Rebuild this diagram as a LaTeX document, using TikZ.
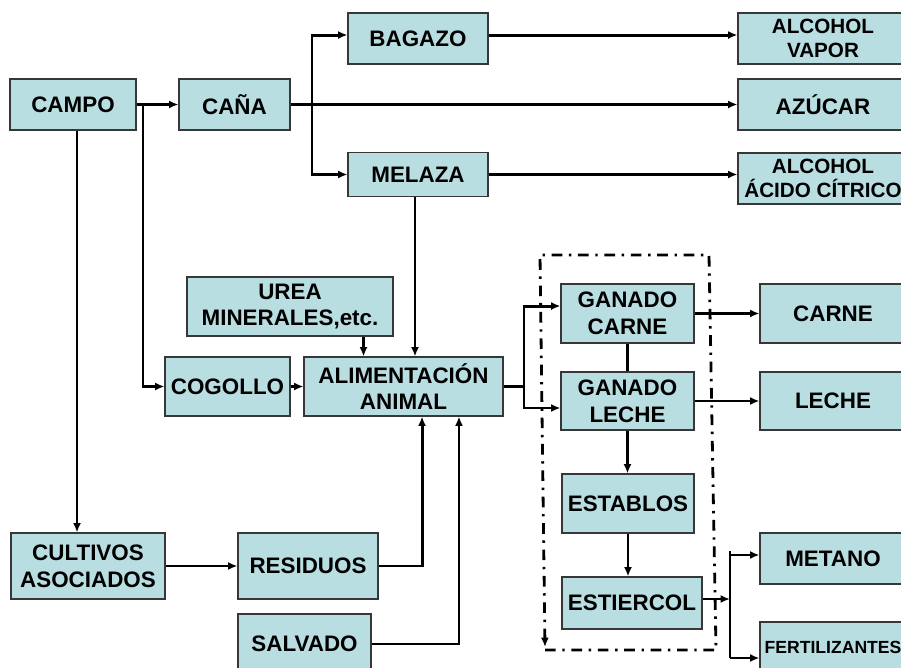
\documentclass[tikz,border=0pt]{standalone}
\usepackage{fontspec}
\setmainfont{Liberation Sans}
\usetikzlibrary{arrows.meta,calc}
\definecolor{boxfill}{RGB}{185,222,226}
\definecolor{boxline}{RGB}{55,55,55}
\begin{document}
\begin{tikzpicture}[x=0.75pt,y=-0.75pt,
  box/.style={draw=boxline,fill=boxfill,line width=0.8pt,inner sep=0pt,align=center,
    font=\bfseries\fontsize{16.8}{20}\selectfont},
  smalltxt/.style={font=\bfseries\fontsize{15.5}{18}\selectfont},
  tinytxt/.style={font=\bfseries\fontsize{13.2}{16}\selectfont},
  conn/.style={line width=2.2pt,-{Latex[length=7pt,width=6pt]}},
  plain/.style={line width=2.2pt},
  loopline/.style={line width=2.1pt,dash pattern=on 8pt off 5pt on 1.8pt off 5pt,-{Latex[length=7pt,width=6pt]}}]
\useasboundingbox (0,0) rectangle (901,668);
\clip (0,0) rectangle (901,668);

% dash-dot loop around livestock
\coordinate (l1) at (545,650);
\coordinate (l2) at (716,650);
\coordinate (l3) at (709,255);
\coordinate (l4) at (540,255);
\coordinate (l5) at (545,647);
\draw[loopline] (l1) -- (l2) -- (l3) -- (l4) -- (l5);

% nodes
\node[box,minimum width=94.5pt,minimum height=38.25pt] (campo) at (73,104.5) {CAMPO};
\node[box,minimum width=83.25pt,minimum height=38.25pt] (cana) at (234.5,104.5) {CAÑA};
\node[box,minimum width=105pt,minimum height=38.25pt] (bagazo) at (418,38.5) {BAGAZO};
\node[box,minimum width=105pt,minimum height=33pt] (melaza) at (418,174.5) {MELAZA};
\node[box,smalltxt,minimum width=127.5pt,minimum height=38.25pt] (alcv) at (823,38.5) {ALCOHOL\\VAPOR};
\node[box,minimum width=127.5pt,minimum height=38.25pt] (azucar) at (823,104.5) {AZÚCAR};
\node[box,smalltxt,minimum width=127.5pt,minimum height=38.25pt] (alcac) at (823,178.5) {ALCOHOL\\ÁCIDO CÍTRICO};
\node[box,minimum width=154.5pt,minimum height=44.25pt] (urea) at (290,306.5) {UREA\\MINERALES,etc.};
\node[box,minimum width=93.75pt,minimum height=44.25pt] (cogollo) at (227.5,386.5) {COGOLLO};
\node[box,minimum width=149.25pt,minimum height=44.25pt] (alim) at (403.5,386.5) {ALIMENTACIÓN\\ANIMAL};
\node[box,minimum width=99.75pt,minimum height=44.25pt] (gc) at (627.5,313.5) {GANADO\\CARNE};
\node[box,minimum width=99.75pt,minimum height=43.5pt] (gl) at (627.5,401) {GANADO\\LECHE};
\node[box,minimum width=109.5pt,minimum height=44.25pt] (carne) at (833,313.5) {CARNE};
\node[box,minimum width=109.5pt,minimum height=43.5pt] (leche) at (833,401) {LECHE};
\node[box,minimum width=99pt,minimum height=44.25pt] (establos) at (628,503.5) {ESTABLOS};
\node[box,minimum width=105pt,minimum height=39pt] (estiercol) at (632,603) {ESTIERCOL};
\node[box,minimum width=109.5pt,minimum height=38.25pt] (metano) at (833,558.5) {METANO};
\node[box,tinytxt,minimum width=109.5pt,minimum height=37.5pt] (fert) at (833,647) {FERTILIZANTES};
\node[box,minimum width=115.5pt,minimum height=49.5pt] (cultivos) at (88,566) {CULTIVOS\\ASOCIADOS};
\node[box,minimum width=105pt,minimum height=49.5pt] (residuos) at (308,566) {RESIDUOS};
\node[box,minimum width=99.75pt,minimum height=45pt] (salvado) at (304.5,644) {SALVADO};

% junction coordinates
\coordinate (j1) at (143,104.5);
\coordinate (j2) at (312,104.5);
\coordinate (j3) at (524,386.5);
\coordinate (j4) at (730,603);

% connectors
\draw[conn] (campo.east) -- (cana.west);
\draw[conn] (j1) |- (cogollo.west);
\draw[conn] ([xshift=3pt]campo.south) -- ([xshift=3pt]campo.south |- cultivos.north);
\draw[conn] (cana.east) -- (azucar.west);
\draw[conn] (j2) |- ([yshift=2.6pt]bagazo.west);
\draw[conn] (j2) |- (melaza.west);
\draw[conn] ([yshift=2.6pt]bagazo.east) -- ([yshift=2.6pt]bagazo.east -| alcv.west);
\draw[conn] (melaza.east) -- (melaza.east -| alcac.west);
\draw[conn] ([xshift=-2.25pt]melaza.south) -- ([xshift=-2.25pt]melaza.south |- alim.north);
\draw[conn] ([xshift=-22.5pt]urea.south east) coordinate (u) -- (u |- alim.north);
\draw[conn] (cogollo.east) -- (alim.west);
\draw[plain] (alim.east) -- (j3);
\draw[conn] (j3) |- ([yshift=5.6pt]gc.west);
\draw[conn] (j3) |- ([yshift=-5.25pt]gl.west);
\draw[line width=1.6pt] (gc.south) -- (gl.north);
\draw[conn] (gc.east) -- (carne.west);
\draw[conn] (gl.east) -- (leche.west);
\draw[conn] (gl.south) -- (gl.south |- establos.north);
\draw[conn] (establos.south) -- (establos.south |- estiercol.north);
\draw[conn] ([yshift=3pt]estiercol.east) -- ([yshift=3pt]j4);
\draw[plain] ([yshift=39pt]j4) -- ([yshift=-41.25pt]j4);
\draw[conn] ([yshift=36pt]j4) -- ([yshift=36pt]j4 -| metano.west);
\draw[conn] ([yshift=-41.25pt]j4) -- ([yshift=-41.25pt]j4 -| fert.west);
\draw[conn] (cultivos.east) -- (cultivos.east -| residuos.west);
\draw[conn] (residuos.east) -| ([xshift=13.9pt]alim.south);
\draw[conn] (salvado.east) -| ([xshift=41.6pt]alim.south);
\end{tikzpicture}
\end{document}
